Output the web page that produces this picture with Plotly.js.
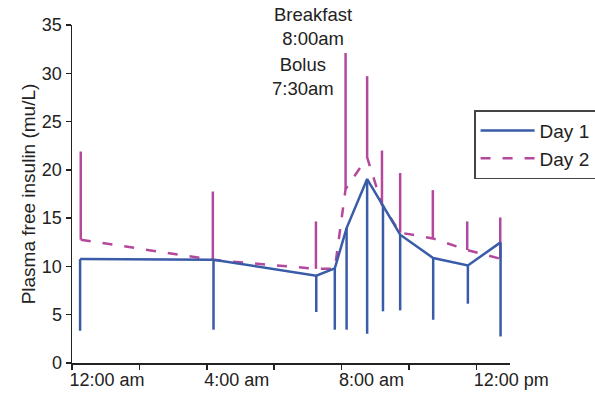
<!DOCTYPE html>
<html>
<head>
<meta charset="utf-8">
<script src="https://cdn.plot.ly/plotly-3.0.1.min.js"></script>
<style>html,body{margin:0;padding:0;background:#fff;}#chart{width:595px;height:399px;}</style>
</head>
<body>
<div id="chart"></div>
<script>
// Time of sample, hours after midnight
const day1Hours = [0.24, 4.2, 7.25, 7.8, 8.15, 8.76, 9.23, 9.74, 10.72, 11.75, 12.72];
const day2Hours = [0.26, 4.18, 7.24, 7.8, 8.12, 8.76, 9.2, 9.74, 10.71, 11.73, 12.71];
// Plasma free insulin (mu/L)
const day1Insulin = [10.76, 10.7, 9.04, 9.8, 13.97, 19.05, 16.3, 13.28, 10.87, 10.1, 12.49];
const day1ErrorDown = [7.42, 7.25, 3.76, 6.35, 10.52, 16.02, 10.95, 7.83, 6.39, 3.96, 9.74];
const day2Insulin = [12.77, 10.68, 9.75, 9.75, 18.0, 21.3, 16.4, 13.5, 12.9, 11.7, 10.8];
const day2ErrorUp = [9.13, 7.08, 4.91, 0, 14.1, 8.4, 5.6, 6.17, 5.0, 2.96, 4.27];
// Axis tick labels
const xTickVals = [0, 4, 8, 12];
const xTickText = ["12:00 am", "4:00 am", "8:00 am", "12:00 pm"];
const yTickVals = [0, 5, 10, 15, 20, 25, 30, 35];

const BLUE = "#3a5ba8";
const MAGENTA = "#b4489d";
const TXT = "#222";
const FONT = "Liberation Sans, Arial, sans-serif";

const zeros = day1Insulin.map(() => 0);

const traces = [
  {
    name: "Day 2",
    x: day2Hours, y: day2Insulin,
    type: "scatter", mode: "lines",
    line: {color: MAGENTA, width: 2.5, dash: "10px,12px"},
    error_y: {type: "data", symmetric: false, array: day2ErrorUp, arrayminus: zeros,
              color: MAGENTA, thickness: 2.5, width: 0},
    hoverinfo: "skip"
  },
  {
    name: "Day 1",
    x: day1Hours, y: day1Insulin,
    type: "scatter", mode: "lines",
    line: {color: BLUE, width: 2.5},
    error_y: {type: "data", symmetric: false, array: zeros, arrayminus: day1ErrorDown,
              color: BLUE, thickness: 2.5, width: 0},
    hoverinfo: "skip"
  }
];

const layout = {
  width: 595, height: 399,
  margin: {l: 72, r: 85, t: 25, b: 36, autoexpand: false},
  paper_bgcolor: "#fff", plot_bgcolor: "#fff",
  font: {family: FONT, size: 18, color: TXT},
  showlegend: true,
  legend: {
    x: 0.918, y: 0.748, xanchor: "left", yanchor: "top",
    traceorder: "reversed",
    bordercolor: "#444", borderwidth: 1.5, bgcolor: "#fff",
    font: {family: FONT, size: 19, color: TXT},
    itemwidth: 54
  },
  xaxis: {
    range: [0, 13], fixedrange: true,
    showline: true, linecolor: TXT, linewidth: 1.5,
    showgrid: false, zeroline: false,
    tickmode: "array", tickvals: xTickVals, ticktext: xTickText,
    ticks: "outside", ticklen: 5, tickwidth: 1.5, tickcolor: TXT,
    ticklabelposition: "outside right", ticklabelshift: -4,
    tickfont: {family: FONT, size: 18, color: TXT},
    minor: {tickmode: "linear", tick0: 0, dtick: 2, ticks: "outside", ticklen: 5,
            tickwidth: 1.5, tickcolor: TXT, showgrid: false}
  },
  yaxis: {
    range: [0, 35], fixedrange: true,
    showline: true, linecolor: TXT, linewidth: 1.5,
    showgrid: false, zeroline: false,
    tickmode: "array", tickvals: yTickVals,
    ticks: "outside", ticklen: 5, tickwidth: 1.5, tickcolor: TXT,
    tickfont: {family: FONT, size: 18, color: TXT},
    title: {text: "Plasma free insulin (mu/L)" + "\u00A0".repeat(9),
            font: {family: FONT, size: 19, color: TXT}, standoff: 1}
  },
  annotations: [
    {text: "Breakfast<br>8:00am", xref: "x", yref: "y", x: 7.14, y: 34.85,
     showarrow: false, xanchor: "center", yanchor: "middle",
     font: {family: FONT, size: 18.5, color: TXT}},
    {text: "Bolus<br>7:30am", xref: "x", yref: "y", x: 6.85, y: 29.68,
     showarrow: false, xanchor: "center", yanchor: "middle",
     font: {family: FONT, size: 18.5, color: TXT}}
  ]
};

Plotly.newPlot("chart", traces, layout, {displayModeBar: false, staticPlot: true});
</script>
</body>
</html>
